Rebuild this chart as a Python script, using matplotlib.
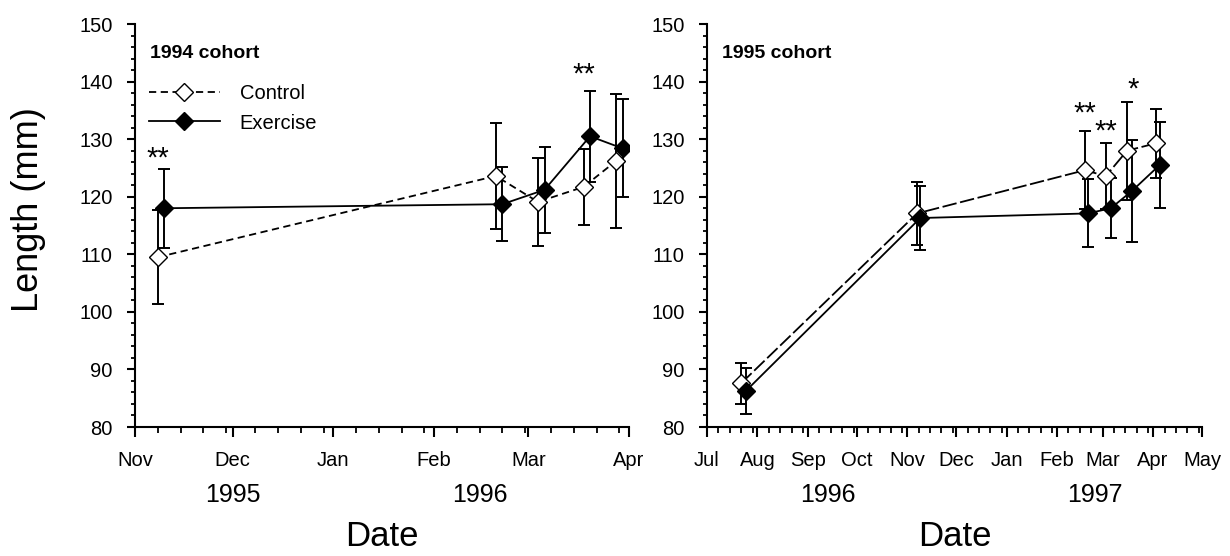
import datetime as dt
import matplotlib
matplotlib.use("Agg")
import matplotlib.pyplot as plt
import matplotlib.dates as mdates
from matplotlib.ticker import MultipleLocator

plt.rcParams['font.family'] = ['Liberation Sans', 'DejaVu Sans']

# 1994 cohort
c94_dates = ["1995-11-08", "1996-02-20", "1996-03-04", "1996-03-18", "1996-03-28"]
c94_mean = [109.5, 123.6, 119.1, 121.7, 126.2]
c94_err = [8.2, 9.2, 7.6, 6.6, 11.7]
e94_dates = ["1995-11-10", "1996-02-22", "1996-03-06", "1996-03-20", "1996-03-30"]
e94_mean = [118.0, 118.7, 121.2, 130.5, 128.4]
e94_err = [6.9, 6.4, 7.5, 7.9, 8.5]

# 1995 cohort
c95_dates = ["1996-07-22", "1996-11-07", "1997-02-18", "1997-03-03", "1997-03-16", "1997-04-03"]
c95_mean = [87.6, 117.1, 124.6, 123.6, 128.0, 129.3]
c95_err = [3.6, 5.5, 6.8, 5.7, 8.5, 6.0]
e95_dates = ["1996-07-25", "1996-11-09", "1997-02-20", "1997-03-06", "1997-03-19", "1997-04-05"]
e95_mean = [86.3, 116.3, 117.1, 118.0, 121.0, 125.5]
e95_err = [4.0, 5.6, 5.9, 5.2, 8.9, 7.4]

# significance stars (baseline position)
sig94_dates = ["1995-11-08", "1996-03-18"]
sig94_y = [125.3, 139.8]
sig94_txt = ["**", "**"]
sig95_dates = ["1997-02-18", "1997-03-03", "1997-03-20"]
sig95_y = [133.0, 130.0, 137.2]
sig95_txt = ["**", "**", "*"]

# year labels under month ticks
yr94_dates = ["1995-12-01", "1996-02-15"]
yr94_txt = ["1995", "1996"]
yr95_dates = ["1996-09-13", "1997-02-24"]
yr95_txt = ["1996", "1997"]

xlim94 = ["1995-11-01", "1996-04-01"]
xlim95 = ["1996-07-01", "1997-05-01"]


def d(lst):
    return [dt.datetime.strptime(s, "%Y-%m-%d") for s in lst]


fig = plt.figure(figsize=(12.3, 5.56), dpi=100)
ax1 = fig.add_axes([0.1098, 0.232, 0.4016, 0.7248])
ax2 = fig.add_axes([0.5748, 0.232, 0.4024, 0.7248])


def panel(ax, cd, cm, ce, ed, em, ee, dash, xlim, sd, sy, st, yd, yt, title):
    ax.errorbar(d(cd), cm, yerr=ce, fmt='none', ecolor='black', elinewidth=1.4,
                capsize=4.3, capthick=1.4, zorder=2)
    ax.errorbar(d(ed), em, yerr=ee, fmt='none', ecolor='black', elinewidth=1.4,
                capsize=4.3, capthick=1.4, zorder=2)
    lc, = ax.plot(d(cd), cm, color='black', lw=1.3, linestyle=(0, dash), marker='D',
                  ms=8.7, mfc='white', mec='black', mew=1.0, zorder=3, label='Control')
    le, = ax.plot(d(ed), em, color='black', lw=1.3, linestyle='-', marker='D',
                  ms=8.7, mfc='black', mec='black', zorder=4, label='Exercise')

    ax.set_xlim(d(xlim))
    ax.set_ylim(80, 150)
    ax.yaxis.set_major_locator(MultipleLocator(10))
    ax.yaxis.set_minor_locator(MultipleLocator(2))
    ax.xaxis.set_major_locator(mdates.MonthLocator())
    ax.xaxis.set_major_formatter(mdates.DateFormatter('%b'))
    ax.xaxis.set_minor_locator(mdates.DayLocator(bymonthday=[8, 15, 22, 29]))

    for s in ['top', 'right']:
        ax.spines[s].set_visible(False)
    for s in ['left', 'bottom']:
        ax.spines[s].set_linewidth(1.5)
    ax.tick_params(axis='y', which='major', length=6, width=1.5, pad=10, labelsize=14.5)
    ax.tick_params(axis='y', which='minor', length=3, width=1.3)
    ax.tick_params(axis='x', which='major', length=7, width=1.5, pad=10, labelsize=14.5)
    ax.tick_params(axis='x', which='minor', length=4.5, width=1.3)

    for x, y, t in zip(d(sd), sy, st):
        ax.text(x, y, t, ha='center', va='baseline', fontsize=21)

    tr = ax.get_xaxis_transform()
    for x, t in zip(d(yd), yt):
        ax.text(x, -0.168, t, transform=tr, ha='center', va='center', fontsize=18)
    ax.text(0.5, -0.272, 'Date', transform=ax.transAxes, ha='center', va='center',
            fontsize=25)
    ax.text(0.03, 0.928, title, transform=ax.transAxes, ha='left', va='center',
            fontsize=14, fontweight='bold')
    return lc, le


lc, le = panel(ax1, c94_dates, c94_mean, c94_err, e94_dates, e94_mean, e94_err,
               (4, 2.5), xlim94, sig94_dates, sig94_y, sig94_txt,
               yr94_dates, yr94_txt, '1994 cohort')
panel(ax2, c95_dates, c95_mean, c95_err, e95_dates, e95_mean, e95_err,
      (8, 2), xlim95, sig95_dates, sig95_y, sig95_txt,
      yr95_dates, yr95_txt, '1995 cohort')

ax1.legend(handles=[lc, le], loc='upper left', bbox_to_anchor=(0.0, 0.885),
           frameon=False, fontsize=14.5, handlelength=3.5, handletextpad=1.0,
           labelspacing=0.5, borderaxespad=0.3)

fig.text(28 / 1230, 1 - 210 / 556, 'Length (mm)', rotation=90, ha='center',
         va='center', fontsize=26)

fig.savefig('out.png', dpi=100)
